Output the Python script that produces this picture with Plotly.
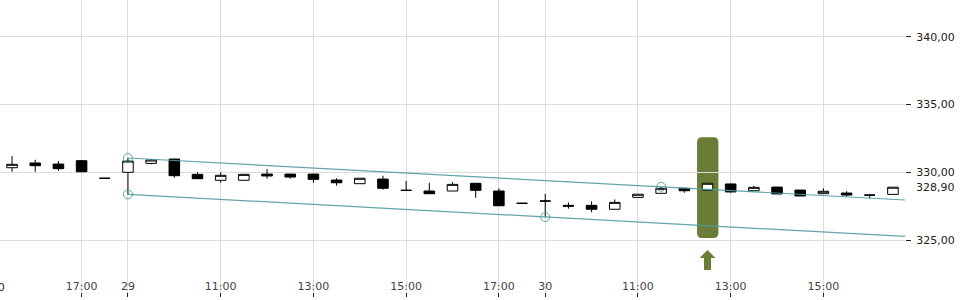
import plotly.graph_objects as go

# ---- data (half-hour candles, index 0 = day 28 15:30) ----
opens  = [330.34, 330.69, 330.61, 330.86, 329.56, 330.00, 330.66, 330.98, 329.85, 329.41,
          329.41, 329.87, 329.87, 329.87, 329.43, 329.16, 329.50, 328.67, 328.62, 328.62,
          329.19, 328.62, 327.71, 327.88, 327.56, 327.56, 327.27, 328.15, 328.45, 328.82,
          328.69, 329.14, 328.64, 328.91, 328.69, 328.42, 328.47, 328.32, 328.37]
closes = [330.59, 330.49, 330.27, 330.04, 329.56, 330.83, 330.91, 329.75, 329.53, 329.78,
          329.85, 329.73, 329.65, 329.48, 329.23, 329.56, 328.82, 328.67, 328.42, 329.11,
          328.67, 327.53, 327.71, 327.88, 327.50, 327.27, 327.78, 328.38, 328.82, 328.64,
          329.19, 328.55, 328.89, 328.40, 328.25, 328.60, 328.32, 328.32, 328.90]
highs  = [331.20, 330.93, 330.83, 330.90, 329.56, 331.06, 330.98, 330.98, 330.00, 330.00,
          329.85, 330.24, 329.87, 329.87, 329.56, 329.56, 329.75, 329.36, 329.23, 329.28,
          329.19, 328.82, 327.71, 328.40, 327.78, 327.86, 328.00, 328.38, 328.93, 328.82,
          329.19, 329.19, 329.01, 328.91, 328.69, 328.82, 328.60, 328.37, 328.90]
lows   = [330.04, 330.04, 330.12, 330.04, 329.56, 328.37, 330.59, 329.60, 329.53, 329.23,
          329.41, 329.53, 329.53, 329.23, 329.01, 329.16, 328.72, 328.67, 328.42, 328.62,
          328.12, 327.53, 327.71, 326.70, 327.31, 327.05, 327.27, 328.15, 328.45, 328.49,
          328.69, 328.49, 328.64, 328.40, 328.25, 328.42, 328.20, 328.08, 328.37]
xs = list(range(len(opens)))

tick_idx    = [-1, 3, 5, 9, 13, 17, 21, 23, 27, 31, 35]
tick_labels = ["15:00", "17:00", "29", "11:00", "13:00", "15:00", "17:00", "30", "11:00", "13:00", "15:00"]

y_ticks = [325, 330, 335, 340]
last_price = 328.90

# channel anchors (indices of pivot candles)
upper_pivots = [5, 28]      # highs
lower_pivots = [5, 23]      # lows
signal_idx = 30             # highlighted candle

X_MIN, X_MAX = -0.52, 38.52
Y_MIN, Y_MAX = 320.79, 342.73

teal = "rgba(80,155,158,0.9)"
olive = "#6a7d38"
txt = "#222"
font_family = "DejaVu Sans"

fig = go.Figure()

# channel lines
slope = (highs[upper_pivots[1]] - highs[upper_pivots[0]]) / (upper_pivots[1] - upper_pivots[0])
x0 = upper_pivots[0]
x_end = X_MAX + 1
fig.add_trace(go.Scatter(x=[x0, x_end], y=[highs[x0], highs[x0] + slope * (x_end - x0)],
                         mode="lines", line=dict(color=teal, width=1.2), hoverinfo="skip"))
xl = lower_pivots[0]
fig.add_trace(go.Scatter(x=[xl, x_end], y=[lows[xl], lows[xl] + slope * (x_end - xl)],
                         mode="lines", line=dict(color=teal, width=1.2), hoverinfo="skip"))

# candles
fig.add_trace(go.Candlestick(
    x=xs, open=opens, high=highs, low=lows, close=closes,
    increasing=dict(fillcolor="white", line=dict(color="black", width=1)),
    decreasing=dict(fillcolor="black", line=dict(color="black", width=1)),
    whiskerwidth=0, hoverinfo="skip"))

# pivot circles
px = [upper_pivots[0], upper_pivots[1], lower_pivots[0], lower_pivots[1]]
py = [highs[upper_pivots[0]], highs[upper_pivots[1]], lows[lower_pivots[0]], lows[lower_pivots[1]]]
fig.add_trace(go.Scatter(x=px, y=py, mode="markers",
                         marker=dict(symbol="circle-open", size=9, color=teal, line=dict(width=1)),
                         hoverinfo="skip"))

# highlight box (rounded) around signal candle
dx_px = 1 / 23.18
dy_px = (Y_MAX - Y_MIN) / 297
hx0, hx1 = signal_idx - 0.45, signal_idx + 0.47
hy0, hy1 = 325.15, 332.6
rx, ry = 5 * dx_px, 5 * dy_px
path = (f"M {hx0+rx},{hy1} L {hx1-rx},{hy1} Q {hx1},{hy1} {hx1},{hy1-ry} "
        f"L {hx1},{hy0+ry} Q {hx1},{hy0} {hx1-rx},{hy0} L {hx0+rx},{hy0} "
        f"Q {hx0},{hy0} {hx0},{hy0+ry} L {hx0},{hy1-ry} Q {hx0},{hy1} {hx0+rx},{hy1} Z")
fig.add_shape(type="path", path=path, fillcolor=olive, line=dict(width=0), layer="below")

# arrow below
ay_tip, ay_head, ay_base = 324.26, 323.67, 322.78
hw, sw = 8 * dx_px, 3.5 * dx_px
cx = signal_idx
apath = (f"M {cx},{ay_tip} L {cx+hw},{ay_head} L {cx+sw},{ay_head} L {cx+sw},{ay_base} "
         f"L {cx-sw},{ay_base} L {cx-sw},{ay_head} L {cx-hw},{ay_head} Z")
fig.add_shape(type="path", path=apath, fillcolor=olive, line=dict(width=0), layer="above")

# last price label
fig.add_annotation(x=1, xref="paper", y=last_price, yref="y", text=f"{last_price:.2f}".replace(".", ","),
                   showarrow=False, xanchor="left", xshift=9,
                   font=dict(family=font_family, size=11, color=txt))

# partially visible first tick label (cut by the left edge, as in the original)
fig.add_annotation(x=(tick_idx[0] - X_MIN) / (X_MAX - X_MIN), xref="paper", y=0, yref="paper",
                   text=tick_labels[0], showarrow=False, xanchor="center", yanchor="bottom",
                   yshift=1, font=dict(family=font_family, size=11, color=txt))

fig.update_layout(
    width=960, height=300,
    margin=dict(l=0, r=55, t=0, b=3),
    paper_bgcolor="white", plot_bgcolor="white",
    showlegend=False,
    separators=",.",
    boxgap=0.35,
    font=dict(family=font_family, size=11, color=txt),
    xaxis=dict(range=[X_MIN, X_MAX], tickmode="array", tickvals=tick_idx, ticktext=tick_labels,
               showgrid=True, gridcolor="#dcdcdc", gridwidth=1, zeroline=False,
               ticks="inside", ticklen=4, tickcolor=txt, ticklabelposition="inside",
               rangeslider=dict(visible=False), showline=False, fixedrange=True),
    yaxis=dict(range=[Y_MIN, Y_MAX], side="right", tickmode="array", tickvals=y_ticks,
               tickformat=".2f", showgrid=True, gridcolor="#dcdcdc", gridwidth=1, zeroline=False,
               ticks="outside", ticklen=5, tickcolor=txt, showline=False, ticklabelstandoff=3),
)

fig.write_html("out.html")
